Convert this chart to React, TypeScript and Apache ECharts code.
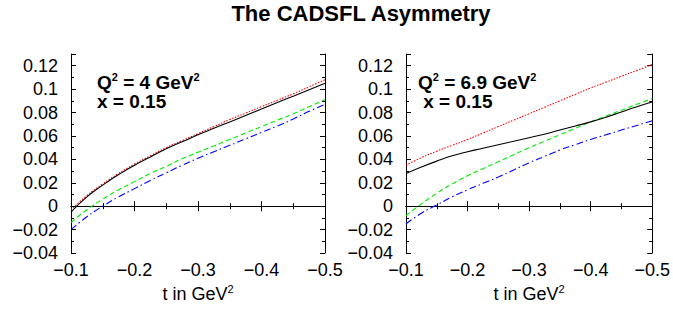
import React, { useEffect, useRef } from "react";
import * as echarts from "echarts";

const tValues = [
  -0.1, -0.125, -0.15, -0.175, -0.2, -0.225, -0.25, -0.275, -0.3,
  -0.325, -0.35, -0.375, -0.4, -0.425, -0.45, -0.475, -0.5,
];

// Left panel: Q^2 = 4 GeV^2, x = 0.15
const leftSolid = [-0.005, 0.008, 0.018, 0.027, 0.035, 0.042, 0.049, 0.055, 0.061, 0.0665, 0.072, 0.0775, 0.083, 0.0885, 0.094, 0.0995, 0.105];
const leftDotted = [-0.003, 0.009, 0.019, 0.028, 0.036, 0.043, 0.05, 0.056, 0.062, 0.068, 0.074, 0.0795, 0.085, 0.0905, 0.096, 0.102, 0.108];
const leftDashed = [-0.014, -0.003, 0.006, 0.014, 0.021, 0.028, 0.034, 0.0405, 0.046, 0.0515, 0.057, 0.0625, 0.068, 0.0735, 0.079, 0.085, 0.091];
const leftDashDot = [-0.02, -0.009, 0.0, 0.008, 0.015, 0.022, 0.0285, 0.035, 0.041, 0.0465, 0.052, 0.0575, 0.063, 0.0685, 0.0745, 0.081, 0.087];

// Right panel: Q^2 = 6.9 GeV^2, x = 0.15
const rightSolid = [0.028, 0.0335, 0.0385, 0.043, 0.0465, 0.0495, 0.0525, 0.0555, 0.0585, 0.0615, 0.065, 0.0685, 0.072, 0.076, 0.0805, 0.085, 0.089];
const rightDotted = [0.035, 0.0415, 0.047, 0.052, 0.057, 0.0625, 0.068, 0.0735, 0.079, 0.0845, 0.09, 0.0955, 0.101, 0.106, 0.111, 0.116, 0.121];
const rightDashed = [-0.008, 0.002, 0.011, 0.019, 0.026, 0.032, 0.038, 0.044, 0.05, 0.0555, 0.061, 0.0665, 0.072, 0.077, 0.082, 0.087, 0.092];
const rightDashDot = [-0.015, -0.006, 0.001, 0.008, 0.014, 0.0195, 0.025, 0.031, 0.037, 0.0425, 0.048, 0.0525, 0.057, 0.061, 0.065, 0.069, 0.073];

const title = "The CADSFL Asymmetry";
const xName = "t in GeV";
const panelLabels = [
  ["Q", " = 4 GeV", "x = 0.15"],
  ["Q", " = 6.9 GeV", " x = 0.15"],
];

const FONT = "'Liberation Sans', Arial, Helvetica, sans-serif";

const fmt = (v: number) => {
  const r = parseFloat(v.toFixed(3));
  if (r === 0) return "0";
  return (r < 0 ? "\u2212" : "") + String(Math.abs(r));
};

export default function App() {
  const ref = useRef<HTMLDivElement>(null);
  useEffect(() => {
    if (!ref.current) return;
    const chart = echarts.init(ref.current, undefined, { renderer: "svg" });

    const grids = [
      { left: 71, right: 348, top: 54, bottom: 56 },
      { left: 406, right: 20, top: 54, bottom: 56 },
    ];

    const xAxes: any[] = [];
    const yAxes: any[] = [];
    [0, 1].forEach((g) => {
      const tick = { show: true, inside: true, length: 5, lineStyle: { color: "#000" } };
      const minor = { show: true, splitNumber: 2, length: 3, lineStyle: { color: "#000" } };
      xAxes.push({
        type: "value",
        gridIndex: g,
        min: -0.5,
        max: -0.1,
        interval: 0.1,
        inverse: true,
        position: "bottom",
        axisLine: { show: true, lineStyle: { color: "#000", width: 1 } },
        axisTick: tick,
        minorTick: minor,
        splitLine: { show: false },
        axisLabel: {
          show: true,
          margin: 8,
          color: "#000",
          fontSize: 18,
          fontFamily: FONT,
          formatter: fmt,
        },
        name: `{n|${xName}}{s|2}`,
        nameLocation: "middle",
        nameGap: 26,
        nameTextStyle: {
          rich: {
            n: { fontSize: 18, fontFamily: FONT, color: "#000", lineHeight: 21 },
            s: { fontSize: 11, fontFamily: FONT, color: "#000", verticalAlign: "top", lineHeight: 21 },
          },
        },
      });
      xAxes.push({
        type: "value",
        gridIndex: g,
        min: -0.5,
        max: -0.1,
        interval: 0.1,
        inverse: true,
        position: "top",
        axisLine: { show: true, lineStyle: { color: "#000", width: 1 } },
        axisTick: tick,
        minorTick: minor,
        splitLine: { show: false },
        axisLabel: { show: false },
      });
      yAxes.push({
        type: "value",
        gridIndex: g,
        min: -0.04,
        max: 0.13,
        interval: 0.02,
        position: "left",
        axisLine: { show: true, lineStyle: { color: "#000", width: 1 } },
        axisTick: tick,
        minorTick: minor,
        splitLine: { show: false },
        axisLabel: {
          show: true,
          margin: 13,
          color: "#000",
          fontSize: 18,
          fontFamily: FONT,
          showMaxLabel: false,
          formatter: fmt,
        },
      });
      yAxes.push({
        type: "value",
        gridIndex: g,
        min: -0.04,
        max: 0.13,
        interval: 0.02,
        position: "right",
        axisLine: { show: true, lineStyle: { color: "#000", width: 1 } },
        axisTick: tick,
        minorTick: minor,
        splitLine: { show: false },
        axisLabel: { show: false },
      });
    });

    const mk = (name: string, arr: number[], g: number, color: string, type: any) => ({
      name,
      type: "line",
      xAxisIndex: g * 2,
      yAxisIndex: g * 2,
      data: tValues.map((t, i) => [t, arr[i]]),
      showSymbol: false,
      smooth: 0.5,
      lineStyle: { color, width: 1.1, type },
      z: 3,
    });

    const series = [
      mk("dotted", leftDotted, 0, "#ff0000", [1.5, 1.5]),
      mk("dashed", leftDashed, 0, "#00ee00", [5, 3]),
      mk("dashdot", leftDashDot, 0, "#0000ff", [7, 3, 1.5, 3]),
      mk("solid", leftSolid, 0, "#000000", "solid"),
      mk("dotted", rightDotted, 1, "#ff0000", [1.5, 1.5]),
      mk("dashed", rightDashed, 1, "#00ee00", [5, 3]),
      mk("dashdot", rightDashDot, 1, "#0000ff", [7, 3, 1.5, 3]),
      mk("solid", rightSolid, 1, "#000000", "solid"),
    ];

    const richLabel = {
      b: { fontSize: 19, fontWeight: "bold", fontFamily: FONT, fill: "#000", lineHeight: 22 },
      s: { fontSize: 11, fontWeight: "bold", fontFamily: FONT, fill: "#000", verticalAlign: "top", lineHeight: 22 },
    };

    const annot = (x: number, lab: string[]) => [
      {
        type: "text",
        left: x,
        top: 71,
        style: {
          text: `{b|${lab[0]}}{s|2}{b|${lab[1]}}{s|2}`,
          rich: richLabel,
        },
      },
      {
        type: "text",
        left: x,
        top: 92,
        style: {
          text: `{b|${lab[2]}}`,
          rich: richLabel,
        },
      },
    ];

    chart.setOption({
      animation: false,
      backgroundColor: "#fff",
      grid: grids,
      xAxis: xAxes,
      yAxis: yAxes,
      series,
      graphic: [
        {
          type: "text",
          x: 361,
          y: 13,
          style: {
            text: title,
            fontSize: 22,
            fontWeight: "bold",
            fontFamily: FONT,
            fill: "#000",
            align: "center",
            verticalAlign: "middle",
          },
        },
        ...annot(97, panelLabels[0]),
        ...annot(418, panelLabels[1]),
      ],
    });
    return () => chart.dispose();
  }, []);
  return (
    <div
      ref={ref}
      style={{ position: "fixed", left: 0, top: 0, width: 673, height: 309, background: "#fff" }}
    />
  );
}
